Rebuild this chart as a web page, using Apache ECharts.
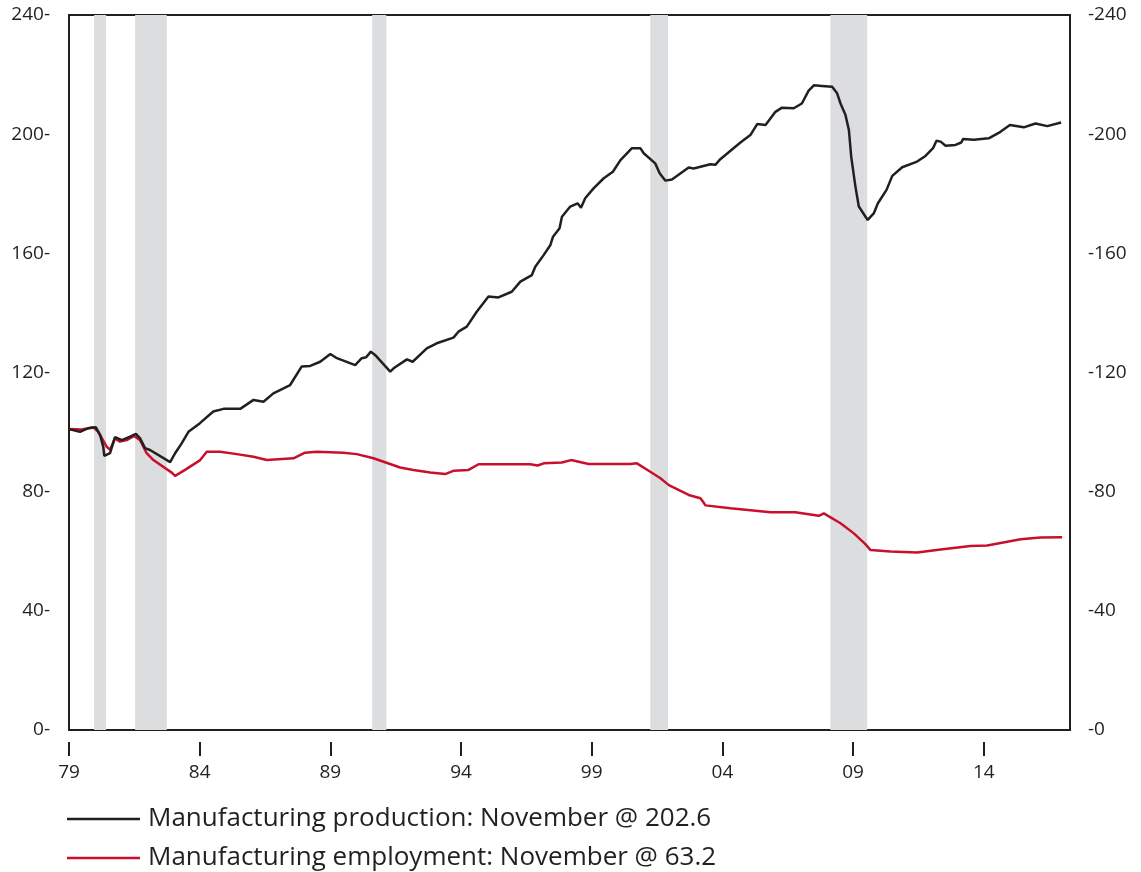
<!DOCTYPE html>
<html><head><meta charset="utf-8">
<script src="https://cdn.jsdelivr.net/npm/echarts@6/dist/echarts.min.js"></script>
<style>html,body{margin:0;padding:0;background:#fff}#c{width:1141px;height:872px}</style>
</head><body><div id="c"></div>
<script>
var baseYear = 1979;
var xTickYears = [1979, 1984, 1989, 1994, 1999, 2004, 2009, 2014];
var yTicks = [0, 40, 80, 120, 160, 200, 240];
var recessions = [[1979.96, 1980.42], [1981.53, 1982.74], [1990.60, 1991.14], [2001.24, 2001.92], [2008.13, 2009.54]];

var prodYears = [1979.0,1979.42,1979.74,1980.03,1980.19,1980.31,1980.35,1980.57,1980.76,1981.02,1981.34,1981.56,1981.72,1981.91,1982.1,1982.87,1983.06,1983.31,1983.57,1984.01,1984.52,1984.91,1985.55,1986.06,1986.44,1986.82,1987.46,1987.9,1988.23,1988.61,1989.0,1989.25,1989.95,1990.2,1990.37,1990.55,1990.71,1991.29,1991.42,1991.93,1992.15,1992.69,1993.07,1993.71,1993.9,1994.22,1994.6,1995.05,1995.43,1995.94,1996.27,1996.71,1996.84,1997.16,1997.42,1997.52,1997.77,1997.86,1998.18,1998.46,1998.59,1998.75,1999.07,1999.46,1999.81,2000.1,2000.54,2000.86,2000.99,2001.43,2001.6,2001.82,2002.07,2002.71,2002.9,2003.54,2003.73,2003.92,2004.69,2005.07,2005.33,2005.65,2006.03,2006.28,2006.73,2007.04,2007.3,2007.5,2007.81,2008.2,2008.39,2008.52,2008.71,2008.84,2008.93,2009.09,2009.22,2009.56,2009.79,2009.95,2010.28,2010.5,2010.88,2011.45,2011.77,2012.06,2012.19,2012.35,2012.54,2012.92,2013.14,2013.21,2013.62,2014.19,2014.64,2015.0,2015.53,2015.98,2016.43,2016.96];
var prodValues = [101.0,100.1,101.3,101.6,99.0,95.1,92.0,92.9,98.3,97.3,98.5,99.4,97.9,94.6,94.0,89.9,92.9,96.2,100.1,103.0,106.9,107.8,107.8,110.8,110.2,113.0,115.8,122.0,122.2,123.6,126.2,124.8,122.5,124.8,125.1,127.0,125.9,120.3,121.4,124.4,123.6,128.1,129.8,131.7,133.7,135.4,140.4,145.5,145.2,147.1,150.5,152.7,155.5,159.4,162.8,165.6,168.4,172.3,175.7,176.8,175.3,178.5,181.8,185.2,187.4,191.3,195.3,195.3,193.6,190.2,186.9,184.4,184.8,188.8,188.5,189.9,189.7,191.6,197.2,199.7,203.4,203.1,207.5,208.9,208.7,210.3,214.6,216.4,216.2,215.9,213.7,210.3,206.4,201.4,192.4,182.4,175.7,171.2,173.4,176.8,181.3,186.0,188.9,190.8,192.7,195.3,197.8,197.5,196.1,196.4,197.2,198.4,198.1,198.6,200.8,203.1,202.3,203.6,202.7,203.9];

var empYears = [1979.0,1979.49,1979.93,1980.12,1980.44,1980.57,1980.76,1980.95,1981.21,1981.49,1981.72,1981.97,1982.23,1982.93,1983.06,1983.44,1984.02,1984.27,1984.78,1985.42,1986.06,1986.57,1987.59,1988.03,1988.48,1989.5,1990.01,1990.65,1991.67,1992.18,1992.82,1993.39,1993.71,1994.29,1994.67,1996.65,1996.93,1997.16,1997.86,1998.21,1998.88,2000.48,2000.73,2001.24,2001.63,2001.95,2002.71,2003.16,2003.26,2003.35,2004.31,2004.69,2005.84,2006.79,2007.69,2007.88,2008.52,2009.03,2009.47,2009.67,2010.43,2011.45,2012.35,2013.49,2014.13,2014.9,2015.41,2016.17,2017.0];
var empValues = [101.0,100.9,101.6,100.1,95.1,94.0,97.9,96.8,97.3,98.7,97.3,92.9,90.6,86.4,85.3,87.3,90.6,93.4,93.4,92.6,91.7,90.6,91.2,93.1,93.4,93.1,92.6,91.2,88.1,87.3,86.4,85.9,87.0,87.3,89.2,89.2,88.8,89.5,89.8,90.6,89.3,89.3,89.5,86.7,84.5,82.2,78.9,77.8,76.6,75.4,74.4,74.1,73.1,73.1,71.9,72.7,69.4,66.0,62.4,60.4,59.9,59.6,60.6,61.8,61.9,63.2,64.0,64.6,64.7];

var prodName = 'Manufacturing production: November @ 202.6';
var empName = 'Manufacturing employment: November @ 63.2';

function pairs(xs, ys) { return xs.map(function (x, i) { return [x - baseYear, ys[i]]; }); }
function yrLabel(v) { var y = Math.round(v + baseYear) % 100; return (y < 10 ? '0' : '') + y; }

var FONT = '"Open Sans", "Noto Sans", sans-serif';
var INK = '#231f20';
var xMax = 38.3;

function legendAt(top, name) {
  return {
    orient: 'vertical', left: 62, top: top, itemWidth: 73, itemHeight: 2.5,
    icon: 'rect', selectedMode: false,
    textStyle: { fontFamily: FONT, fontSize: 26, color: INK, padding: [0, 0, 0, 3] },
    data: [{ name: name }]
  };
}

var chart = echarts.init(document.getElementById('c'), null, { renderer: 'canvas' });
chart.setOption({
  animation: false,
  backgroundColor: '#ffffff',
  grid: { left: 69, right: 71, top: 15, bottom: 142, show: true, borderColor: INK, borderWidth: 2, backgroundColor: 'transparent' },
  legend: [legendAt(801, prodName), legendAt(840, empName)],
  xAxis: [
    { type: 'value', min: 0, max: xMax, interval: 5, axisLine: { show: false, onZero: false }, axisTick: { show: false }, axisLabel: { show: false }, splitLine: { show: false } },
    { type: 'value', min: 0, max: xMax, interval: 5, position: 'bottom', offset: 12,
      axisLine: { show: false, onZero: false },
      axisTick: { show: true, length: 14, lineStyle: { color: INK, width: 2 } },
      axisLabel: { margin: 21, fontFamily: FONT, fontSize: 19, color: INK, showMaxLabel: false, formatter: yrLabel },
      splitLine: { show: false } }
  ],
  yAxis: [
    { type: 'value', min: 0, max: 240, interval: 40, position: 'left', axisLine: { show: false, onZero: false }, axisTick: { show: false }, splitLine: { show: false },
      axisLabel: { margin: 19, fontFamily: FONT, fontSize: 19, color: INK, formatter: function (v) { return v + '-'; } } },
    { type: 'value', min: 0, max: 240, interval: 40, position: 'right', axisLine: { show: false, onZero: false }, axisTick: { show: false }, splitLine: { show: false },
      axisLabel: { margin: 18, fontFamily: FONT, fontSize: 19, color: INK, formatter: function (v) { return '-' + v; } } }
  ],
  series: [
    { type: 'line', name: 'recessions', xAxisIndex: 0, yAxisIndex: 0, data: [], silent: true,
      markArea: { silent: true, itemStyle: { color: '#dcdddf' },
        data: recessions.map(function (r) { return [{ xAxis: r[0] - baseYear }, { xAxis: r[1] - baseYear }]; }) } },
    { type: 'line', name: empName, xAxisIndex: 0, yAxisIndex: 0, data: pairs(empYears, empValues), showSymbol: false,
      lineStyle: { color: '#c8102e', width: 2.5 }, itemStyle: { color: '#c8102e' }, z: 3 },
    { type: 'line', name: prodName, xAxisIndex: 0, yAxisIndex: 0, data: pairs(prodYears, prodValues), showSymbol: false,
      lineStyle: { color: INK, width: 2.5 }, itemStyle: { color: INK }, z: 4 }
  ]
});
</script></body></html>
